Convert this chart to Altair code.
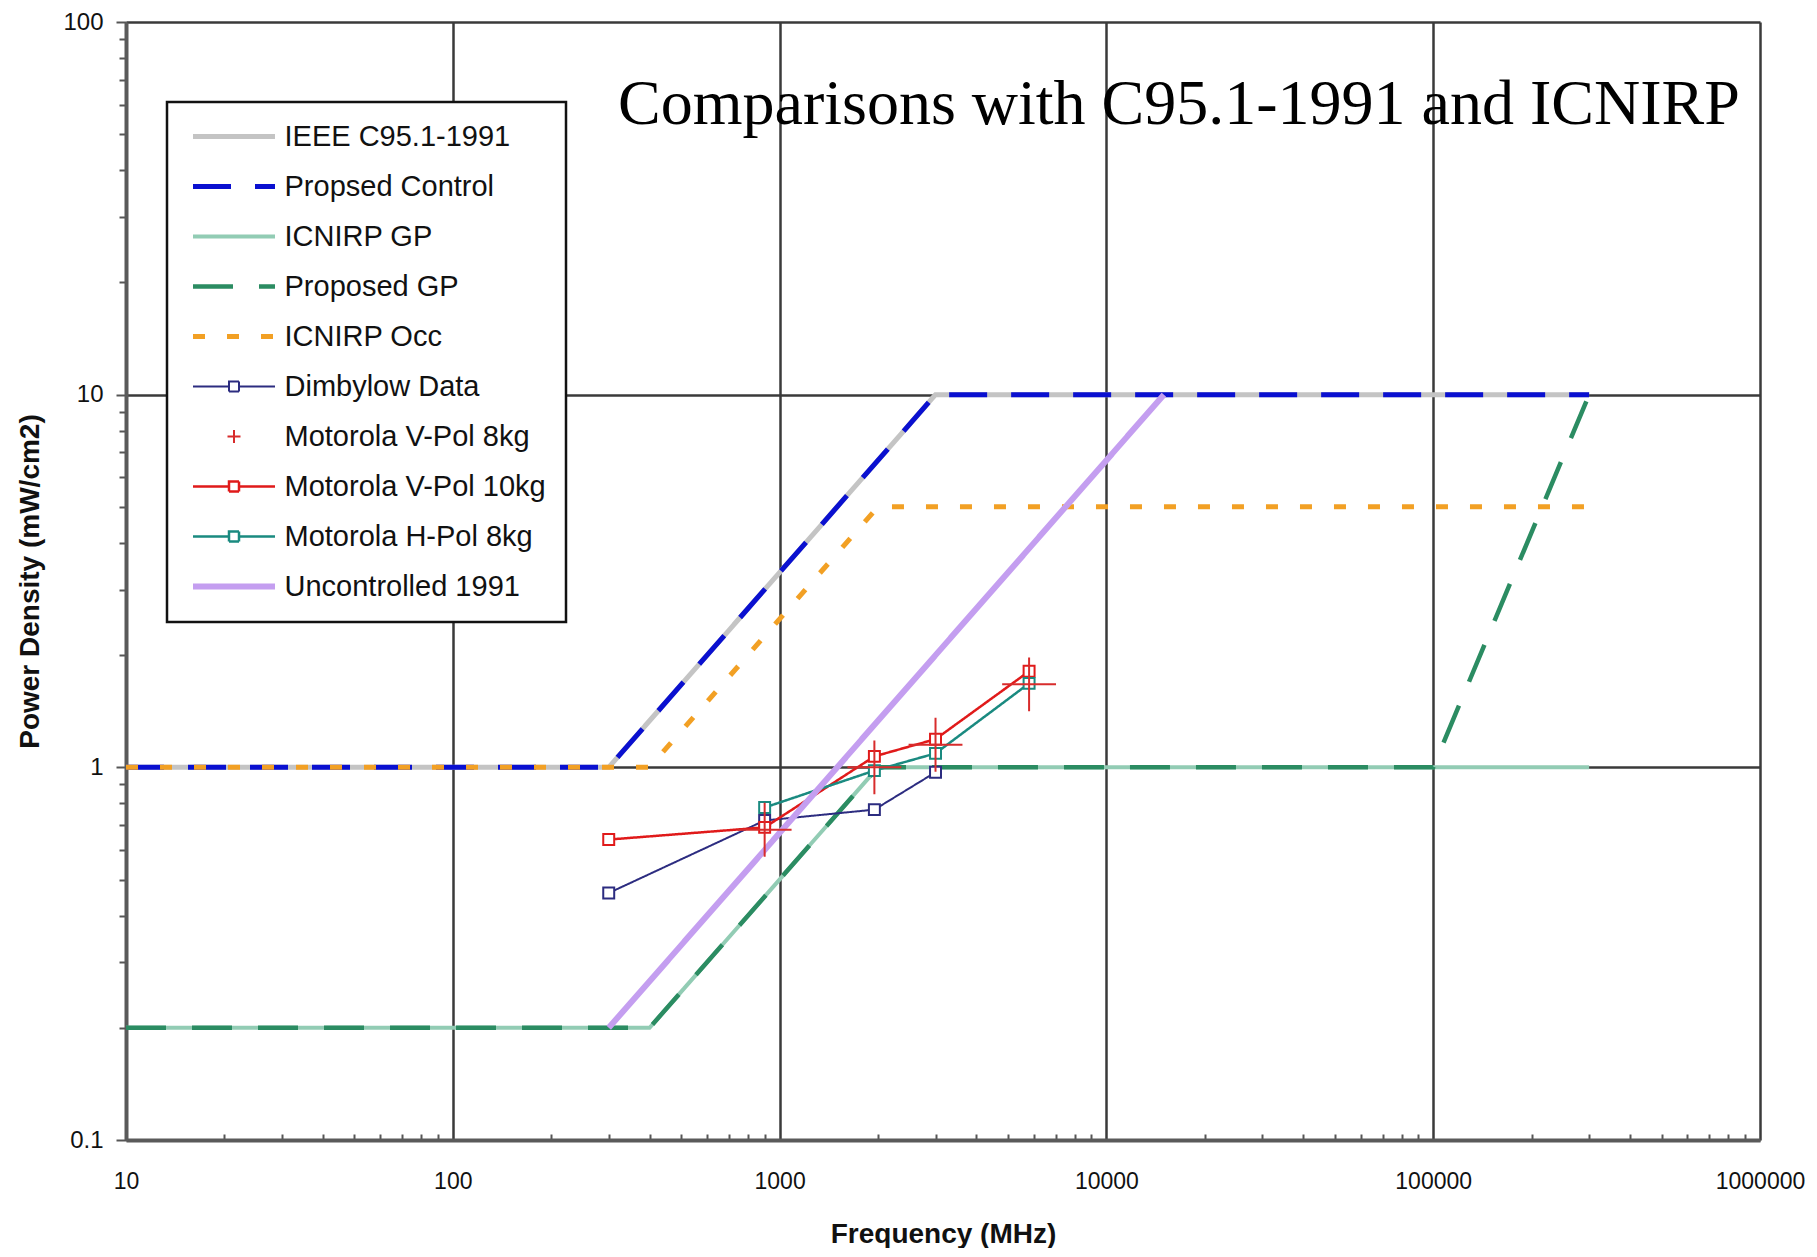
import altair as alt
import pandas as pd

TITLE = "Comparisons with C95.1-1991 and ICNIRP"
X_TITLE = "Frequency (MHz)"
Y_TITLE = "Power Density (mW/cm2)"

SERIES = [
    "IEEE C95.1-1991", "Propsed Control", "ICNIRP GP", "Proposed GP", "ICNIRP Occ",
    "Dimbylow Data", "Motorola V-Pol 8kg", "Motorola V-Pol 10kg", "Motorola H-Pol 8kg",
    "Uncontrolled 1991",
]

# series values (frequency MHz, power density mW/cm2)
ieee_f = [10, 300, 3000, 300000]
ieee_v = [1, 1, 10, 10]
control_f = [10, 300, 3000, 300000]
control_v = [1, 1, 10, 10]
icnirp_gp_f = [10, 400, 2000, 300000]
icnirp_gp_v = [0.2, 0.2, 1, 1]
proposed_gp_f = [10, 400, 2000, 100000, 300000]
proposed_gp_v = [0.2, 0.2, 1, 1, 10]
icnirp_occ_f = [10, 400, 2000, 300000]
icnirp_occ_v = [1, 1, 5, 5]
dimbylow_f = [300, 900, 1950, 3000]
dimbylow_v = [0.46, 0.72, 0.77, 0.97]
vpol8_f = [900, 1950, 3000, 5800]
vpol8_v = [0.68, 1.0, 1.15, 1.67]
vpol10_f = [300, 900, 1950, 3000, 5800]
vpol10_v = [0.64, 0.69, 1.07, 1.19, 1.81]
hpol8_f = [900, 1950, 3000, 5800]
hpol8_v = [0.78, 0.98, 1.09, 1.68]
unc_f = [300, 15000]
unc_v = [0.2, 10]

X_MAJOR = [10, 100, 1000, 10000, 100000, 1000000]
Y_MAJOR = [0.1, 1, 10, 100]
X_MINOR = [m * d for d in [10, 100, 1000, 10000, 100000] for m in range(2, 10)]
Y_MINOR = [round(m * d, 3) for d in [0.1, 1, 10] for m in range(2, 10)]

# styles
COLORS = ["#c4c4c4", "#0a10d0", "#92ccb4", "#2b8c62", "#f2a024",
          "#2c2c80", "#d82c2c", "#e01a1a", "#1a8a80", "#c49ef0"]
DASHES = [[1, 0], [38, 24], [1, 0], [40, 26], [12, 22],
          [1, 0], [1, 0], [1, 0], [1, 0], [1, 0]]
WIDTHS = [5, 5, 4, 4.5, 5, 2, 2, 2.5, 2.5, 6]
# legend symbols (unit = 10 px with symbolSize 400)
LINE = "M-4.1,0L4.1,0"
SQ_LINE = "M-4.1,0L-0.5,0M0.5,0L4.1,0M-0.5,-0.5L0.5,-0.5L0.5,0.5L-0.5,0.5Z"
CROSS_S = "M-0.65,0L0.65,0M0,-0.65L0,0.65"
SHAPES = [LINE, LINE, LINE, LINE, LINE, SQ_LINE, CROSS_S, SQ_LINE, SQ_LINE, LINE]
BIG_CROSS = "M-1,0L1,0M0,-1L0,1"

all_f = [ieee_f, control_f, icnirp_gp_f, proposed_gp_f, icnirp_occ_f,
         dimbylow_f, vpol8_f, vpol10_f, hpol8_f, unc_f]
all_v = [ieee_v, control_v, icnirp_gp_v, proposed_gp_v, icnirp_occ_v,
         dimbylow_v, vpol8_v, vpol10_v, hpol8_v, unc_v]
rows = []
for s, fs, vs in zip(SERIES, all_f, all_v):
    for i, (f, v) in enumerate(zip(fs, vs)):
        rows.append({"series": s, "f": f, "v": v, "idx": i})
df = pd.DataFrame(rows)

x_scale = alt.Scale(type="log", domain=[10, 1000000], nice=False)
y_scale = alt.Scale(type="log", domain=[0.1, 100], nice=False)
color_scale = alt.Scale(domain=SERIES, range=COLORS)
dash_scale = alt.Scale(domain=SERIES, range=DASHES)
width_scale = alt.Scale(type="ordinal", domain=SERIES, range=WIDTHS)
shape_scale = alt.Scale(domain=SERIES, range=SHAPES)

base = alt.Chart(df)

x_main = alt.Axis(values=X_MAJOR, format="d", orient="bottom", grid=True, ticks=False,
                  labelPadding=30, labelFlush=False, labelOverlap=False, labelFontSize=23,
                  title=X_TITLE, titleY=102, titleBaseline="alphabetic")
y_main = alt.Axis(values=Y_MAJOR, format="~g", orient="left", grid=True, ticks=True,
                  tickSize=10, tickWidth=2, labelPadding=13, labelOverlap=False,
                  labelFlush=False, title=Y_TITLE, titleX=-96, titleY=559,
                  titleBaseline="middle")

# legend-defining layer (no rows drawn); carries the minor-tick axes
leg = alt.Legend(title=None, orient="none", legendX=41, legendY=80)
x_minor = alt.Axis(values=X_MINOR, orient="bottom", grid=False, domain=False, labels=False,
                   ticks=True, tickSize=6, tickWidth=2, offset=-6, title=None)
y_minor = alt.Axis(values=Y_MINOR, orient="left", grid=False, domain=False, labels=False,
                   ticks=True, tickSize=7, tickWidth=2, title=None)

legend_layer = base.transform_filter("false").mark_point(filled=False, opacity=1).encode(
    x=alt.X("f:Q", scale=x_scale, axis=x_minor),
    y=alt.Y("v:Q", scale=y_scale, axis=y_minor),
    color=alt.Color("series:N", scale=color_scale, legend=leg),
    shape=alt.Shape("series:N", scale=shape_scale, legend=leg),
    strokeDash=alt.StrokeDash("series:N", scale=dash_scale, legend=leg),
    strokeWidth=alt.StrokeWidth("series:N", scale=width_scale, legend=leg),
)

lines = base.transform_filter(
    alt.datum.series != "Motorola V-Pol 8kg"
).mark_line().encode(
    x=alt.X("f:Q", scale=x_scale, axis=x_main),
    y=alt.Y("v:Q", scale=y_scale, axis=y_main),
    color=alt.Color("series:N", scale=color_scale),
    strokeDash=alt.StrokeDash("series:N", scale=dash_scale),
    strokeWidth=alt.StrokeWidth("series:N", scale=width_scale),
    order="idx:Q",
)

squares = base.transform_filter(
    alt.FieldOneOfPredicate(field="series",
                            oneOf=["Dimbylow Data", "Motorola V-Pol 10kg", "Motorola H-Pol 8kg"])
).mark_point(shape="square", filled=False, fill="white", size=120, strokeWidth=2, opacity=1).encode(
    x=alt.X("f:Q", scale=x_scale, axis=None),
    y=alt.Y("v:Q", scale=y_scale, axis=None),
    color=alt.Color("series:N", scale=color_scale),
)

crosses = base.transform_filter(
    alt.datum.series == "Motorola V-Pol 8kg"
).mark_point(shape=BIG_CROSS, filled=False, size=2900, strokeWidth=2, opacity=1).encode(
    x=alt.X("f:Q", scale=x_scale, axis=None),
    y=alt.Y("v:Q", scale=y_scale, axis=None),
    color=alt.Color("series:N", scale=color_scale),
)

title_mark = alt.Chart(pd.DataFrame({"t": [TITLE]})).mark_text(
    font="Liberation Serif", fontSize=64, align="left", baseline="alphabetic", color="#000"
).encode(x=alt.value(492), y=alt.value(102), text="t:N")

chart = alt.layer(legend_layer, lines, squares, crosses, title_mark).resolve_axis(
    x="independent", y="independent"
).properties(
    width=1634, height=1118,
    autosize=alt.AutoSizeParams(type="none"),
    padding={"left": 118, "top": 14, "right": 47, "bottom": 108},
    background="white",
).configure_view(stroke=None).configure_axis(
    gridColor="#3a3a3a", gridWidth=2.5, gridOpacity=1,
    domainColor="#5a5a5a", domainWidth=4,
    tickColor="#555555",
    labelFont="Liberation Sans", labelFontSize=24, labelColor="#111111",
    titleFont="Liberation Sans", titleFontSize=28, titleFontWeight="bold", titleColor="#111111",
).configure_legend(
    labelFont="Liberation Sans", labelFontSize=29, labelColor="#111111", labelLimit=0,
    symbolSize=400, symbolOffset=32.5, labelOffset=36, rowPadding=20, padding=20,
    strokeColor="#111111", strokeWidth=2.5, fillColor="white",
)

chart.save("out.html", embed_options={"renderer": "svg", "actions": False})
